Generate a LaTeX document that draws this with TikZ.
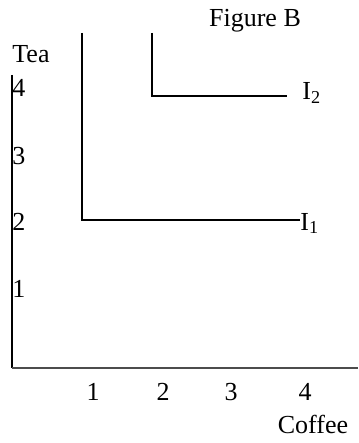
\documentclass[tikz,border=0pt]{standalone}
\usepackage{fontspec}
\setmainfont{Liberation Serif}
\usetikzlibrary{positioning}
\tikzset{
  axis/.style   = {line width=0.8pt, draw=black},
  xaxis/.style  = {line width=0.6pt, draw=black!70},
  icurve/.style = {line width=0.6pt, draw=black},
  lbl/.style    = {inner sep=0pt, anchor=base, font=\fontsize{13}{15}\selectfont},
  ttl/.style    = {lbl}
}
\begin{document}
\begin{tikzpicture}[x=0.5pt, y=-0.5pt]
\useasboundingbox (0,0) rectangle (358,443);
%% axes
\coordinate (o) at (12,368);
\coordinate (ytop) at (12,75);
\coordinate (xend) at (358,368);
\draw[axis] (ytop) -- (o);
\draw[xaxis] (o) -- (xend);
\node[lbl, anchor=base west] (tea) at (12,63) {Tea};
\node[lbl] (coffee) at (313,433) {Coffee};
\foreach \n/\y in {4/97,3/164,2/230,1/297}
  \node[lbl, anchor=base west] (y\n) at (12,\y) {\n};
\foreach \n/\x in {1/93,2/163,3/231,4/305}
  \node[lbl] (x\n) at (\x,400) {\n};
%% title
\node[ttl] (fig) at (255,27) {Figure B};
%% indifference curves
\node[lbl, anchor=base west] (l1) at (300,230) {I\textsubscript{1}};
\node[lbl, anchor=base west] (l2) at (302,100) {I\textsubscript{2}};
\coordinate (top1) at (82,33);
\coordinate (kink1) at (82,220);
\draw[icurve] (top1) -- (kink1) -- (kink1 -| l1.west);
\coordinate (top2) at (152,33);
\coordinate (kink2) at (152,96);
\coordinate (end2) at (287,96);
\draw[icurve] (top2) -- (kink2) -- (end2);
\end{tikzpicture}
\end{document}
